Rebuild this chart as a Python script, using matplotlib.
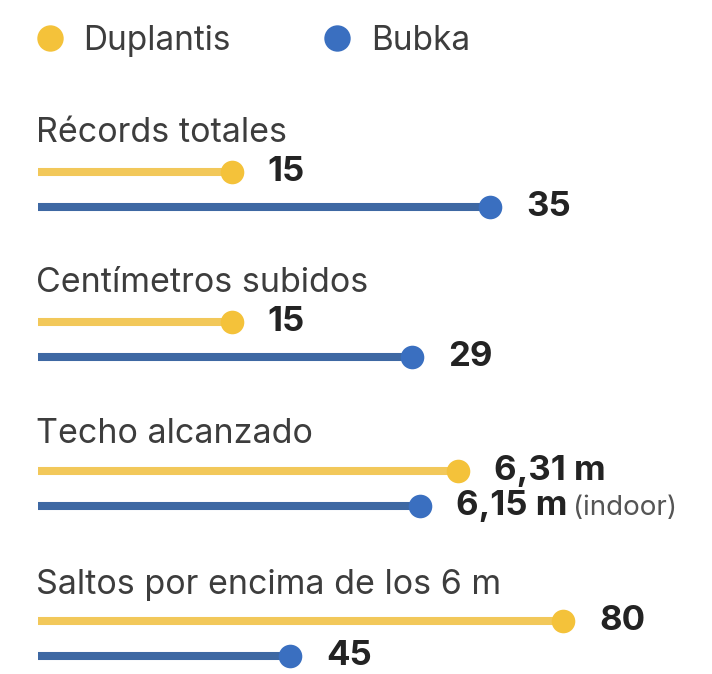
import matplotlib
matplotlib.use("Agg")
import matplotlib.pyplot as plt
from matplotlib.lines import Line2D

# ---- data ----
series = ["Duplantis", "Bubka"]
categories = ["Récords totales", "Centímetros subidos", "Techo alcanzado",
              "Saltos por encima de los 6 m"]
duplantis = [15, 15, 6.31, 80]
bubka = [35, 29, 6.15, 45]
dup_labels = ["15", "15", "6,31 m", "80"]
bub_labels = ["35", "29", "6,15 m", "45"]
bub_notes = ["", "", "(indoor)", ""]
# per-panel axis ranges (each panel has its own scale in the infographic)
x_ranges = [(0, 52.2), (0, 52.2), (4.542, 7.38), (12.7, 99.1)]

# ---- style ----
W, H = 712, 674
DPI = 100
yellow_line = "#F2C85A"
yellow_dot = "#F4C23A"
blue_line = "#3E68A3"
blue_dot = "#3A6FC0"
title_color = "#3d3d3d"
value_color = "#232323"
plt.rcParams['font.family'] = ['Inter', 'DejaVu Sans']

fig = plt.figure(figsize=(W / DPI, H / DPI), dpi=DPI)
fig.patch.set_facecolor("white")

left_px = 38
row_y_px = [172, 322, 471, 621]   # centre of Duplantis row for each panel
row_gap = 35
title_y_px = [133, 283, 434, 585]

for i, cat in enumerate(categories):
    top = row_y_px[i] - row_gap / 2
    height = 2 * row_gap
    ax = fig.add_axes([left_px / W, 1 - (top + height) / H,
                       1 - left_px / W, height / H])
    ax.set_xlim(*x_ranges[i])
    ax.set_ylim(1.5, -0.5)
    ax.axis("off")
    x0 = x_ranges[i][0]
    vals = [duplantis[i], bubka[i]]
    lcols = [yellow_line, blue_line]
    dcols = [yellow_dot, blue_dot]
    labs = [dup_labels[i], bub_labels[i]]
    for r in range(2):
        ax.plot([x0, vals[r]], [r, r], color=lcols[r], lw=5.8,
                solid_capstyle="butt", zorder=2)
        ax.plot([vals[r]], [r], marker="o", ms=17, color=dcols[r],
                mec="none", zorder=3)
        t = ax.annotate(labs[r], xy=(vals[r], r), xytext=(26, 0),
                        textcoords="offset points", va="center",
                        ha="left", fontsize=25, fontweight="bold",
                        color=value_color)
        if r == 1 and bub_notes[i]:
            ax.annotate(bub_notes[i], xy=(1, 0.45), xycoords=t,
                        xytext=(4, 0), textcoords="offset points",
                        va="center", ha="left", fontsize=20,
                        color="#555555")
    fig.text(36 / W, 1 - title_y_px[i] / H, cat, ha="left", va="center",
             fontsize=24.5, color=title_color)

# legend
handles = [Line2D([], [], ls="", marker="o", ms=19, color=yellow_dot, mec="none"),
           Line2D([], [], ls="", marker="o", ms=19, color=blue_dot, mec="none")]
fig.legend(handles, series, loc="center left",
           bbox_to_anchor=(20 / W, 1 - 41 / H), ncol=2, frameon=False,
           fontsize=24, handletextpad=0.5, columnspacing=2.7,
           labelcolor=title_color, borderaxespad=0, handlelength=1.0)

fig.savefig("out.png", dpi=DPI, facecolor="white")
